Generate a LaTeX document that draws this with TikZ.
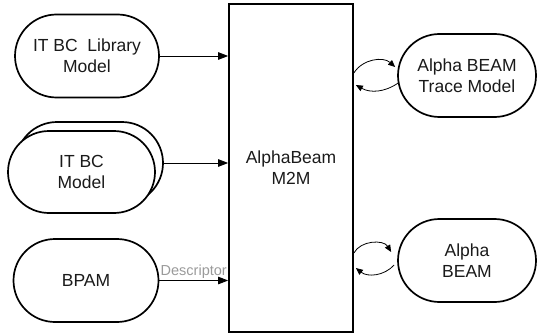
\documentclass[tikz,border=0pt]{standalone}
\usepackage{fontspec}
\setmainfont{Liberation Sans}
\usetikzlibrary{arrows.meta,shapes.misc}
\definecolor{rand}{HTML}{000000}
\definecolor{schrift}{HTML}{1A1A1A}
\definecolor{hgrau}{HTML}{9A9A9A}
\tikzset{
  modell/.style={rounded rectangle,draw=rand,fill=white,line width=1.7pt,minimum width=144pt,minimum height=83pt,inner sep=0pt,align=center,text=schrift,font=\fontsize{17.5}{21}\selectfont},
  trafo/.style={rectangle,draw=rand,line width=1.7pt,minimum width=124pt,minimum height=328pt,inner sep=0pt,align=center,text=schrift,font=\fontsize{17.5}{21}\selectfont},
  pfeil/.style={-{Triangle[length=10pt,width=7.5pt]},rand,line width=0.9pt},
  schleife/.style={-{Triangle[length=7pt,width=6pt]},rand,line width=0.8pt},
  etikett/.style={hgrau,font=\fontsize{14.5}{17}\selectfont,inner sep=1.5pt},
}
\begin{document}
\begin{tikzpicture}[x=1pt,y=-1pt]
  \useasboundingbox (0,0) rectangle (537,334);
  % ===== links: Quellmodelle =====
  \node[modell] (lib) at (87,56) {IT BC\ \ Library\\Model};
  \node[modell,minimum width=147pt,minimum height=82pt] (itbcback) at (89.5,163) {};
  \node[modell,minimum width=147pt,minimum height=82pt] (itbc) at (81.5,172) {IT BC\\Model};
  \node[modell,minimum width=145pt] (bpam) at (86,280.5) {BPAM};
  % ===== Mitte: Transformation =====
  \node[trafo] (m2m) at (291,168) {AlphaBeam\\M2M};
  % ===== rechts: Zielmodelle =====
  \node[modell,minimum width=138pt] (trace) at (467,75.5) {Alpha BEAM\\Trace Model};
  \node[modell,minimum width=138pt] (beam) at (467,260.5) {Alpha\\BEAM};
  % ===== Verbindungen =====
  \draw[pfeil] (lib.east) -- (lib.east -| m2m.west);
  \draw[pfeil] (itbcback.east) -- (itbcback.east -| m2m.west);
  \draw[pfeil] (bpam.east) -- node[etikett,above] {Descriptor} (bpam.east -| m2m.west);
  \draw[schleife] ([yshift=2.5pt]m2m.east |- trace.west) to[bend left=50] ([xshift=-2pt,yshift=8.5pt]trace.west);
  \draw[schleife] ([xshift=1pt,yshift=-7.5pt]trace.west) to[bend left=32] ([xshift=2pt,yshift=-9.5pt]m2m.east |- trace.west);
  \draw[schleife] ([yshift=7.5pt]m2m.east |- beam.west) to[bend left=60] ([xshift=-6pt,yshift=8.5pt]beam.west);
  \draw[schleife] ([xshift=-3pt,yshift=-4.5pt]beam.west) to[bend left=43] ([xshift=2pt,yshift=-7.5pt]m2m.east |- beam.west);
\end{tikzpicture}
\end{document}
